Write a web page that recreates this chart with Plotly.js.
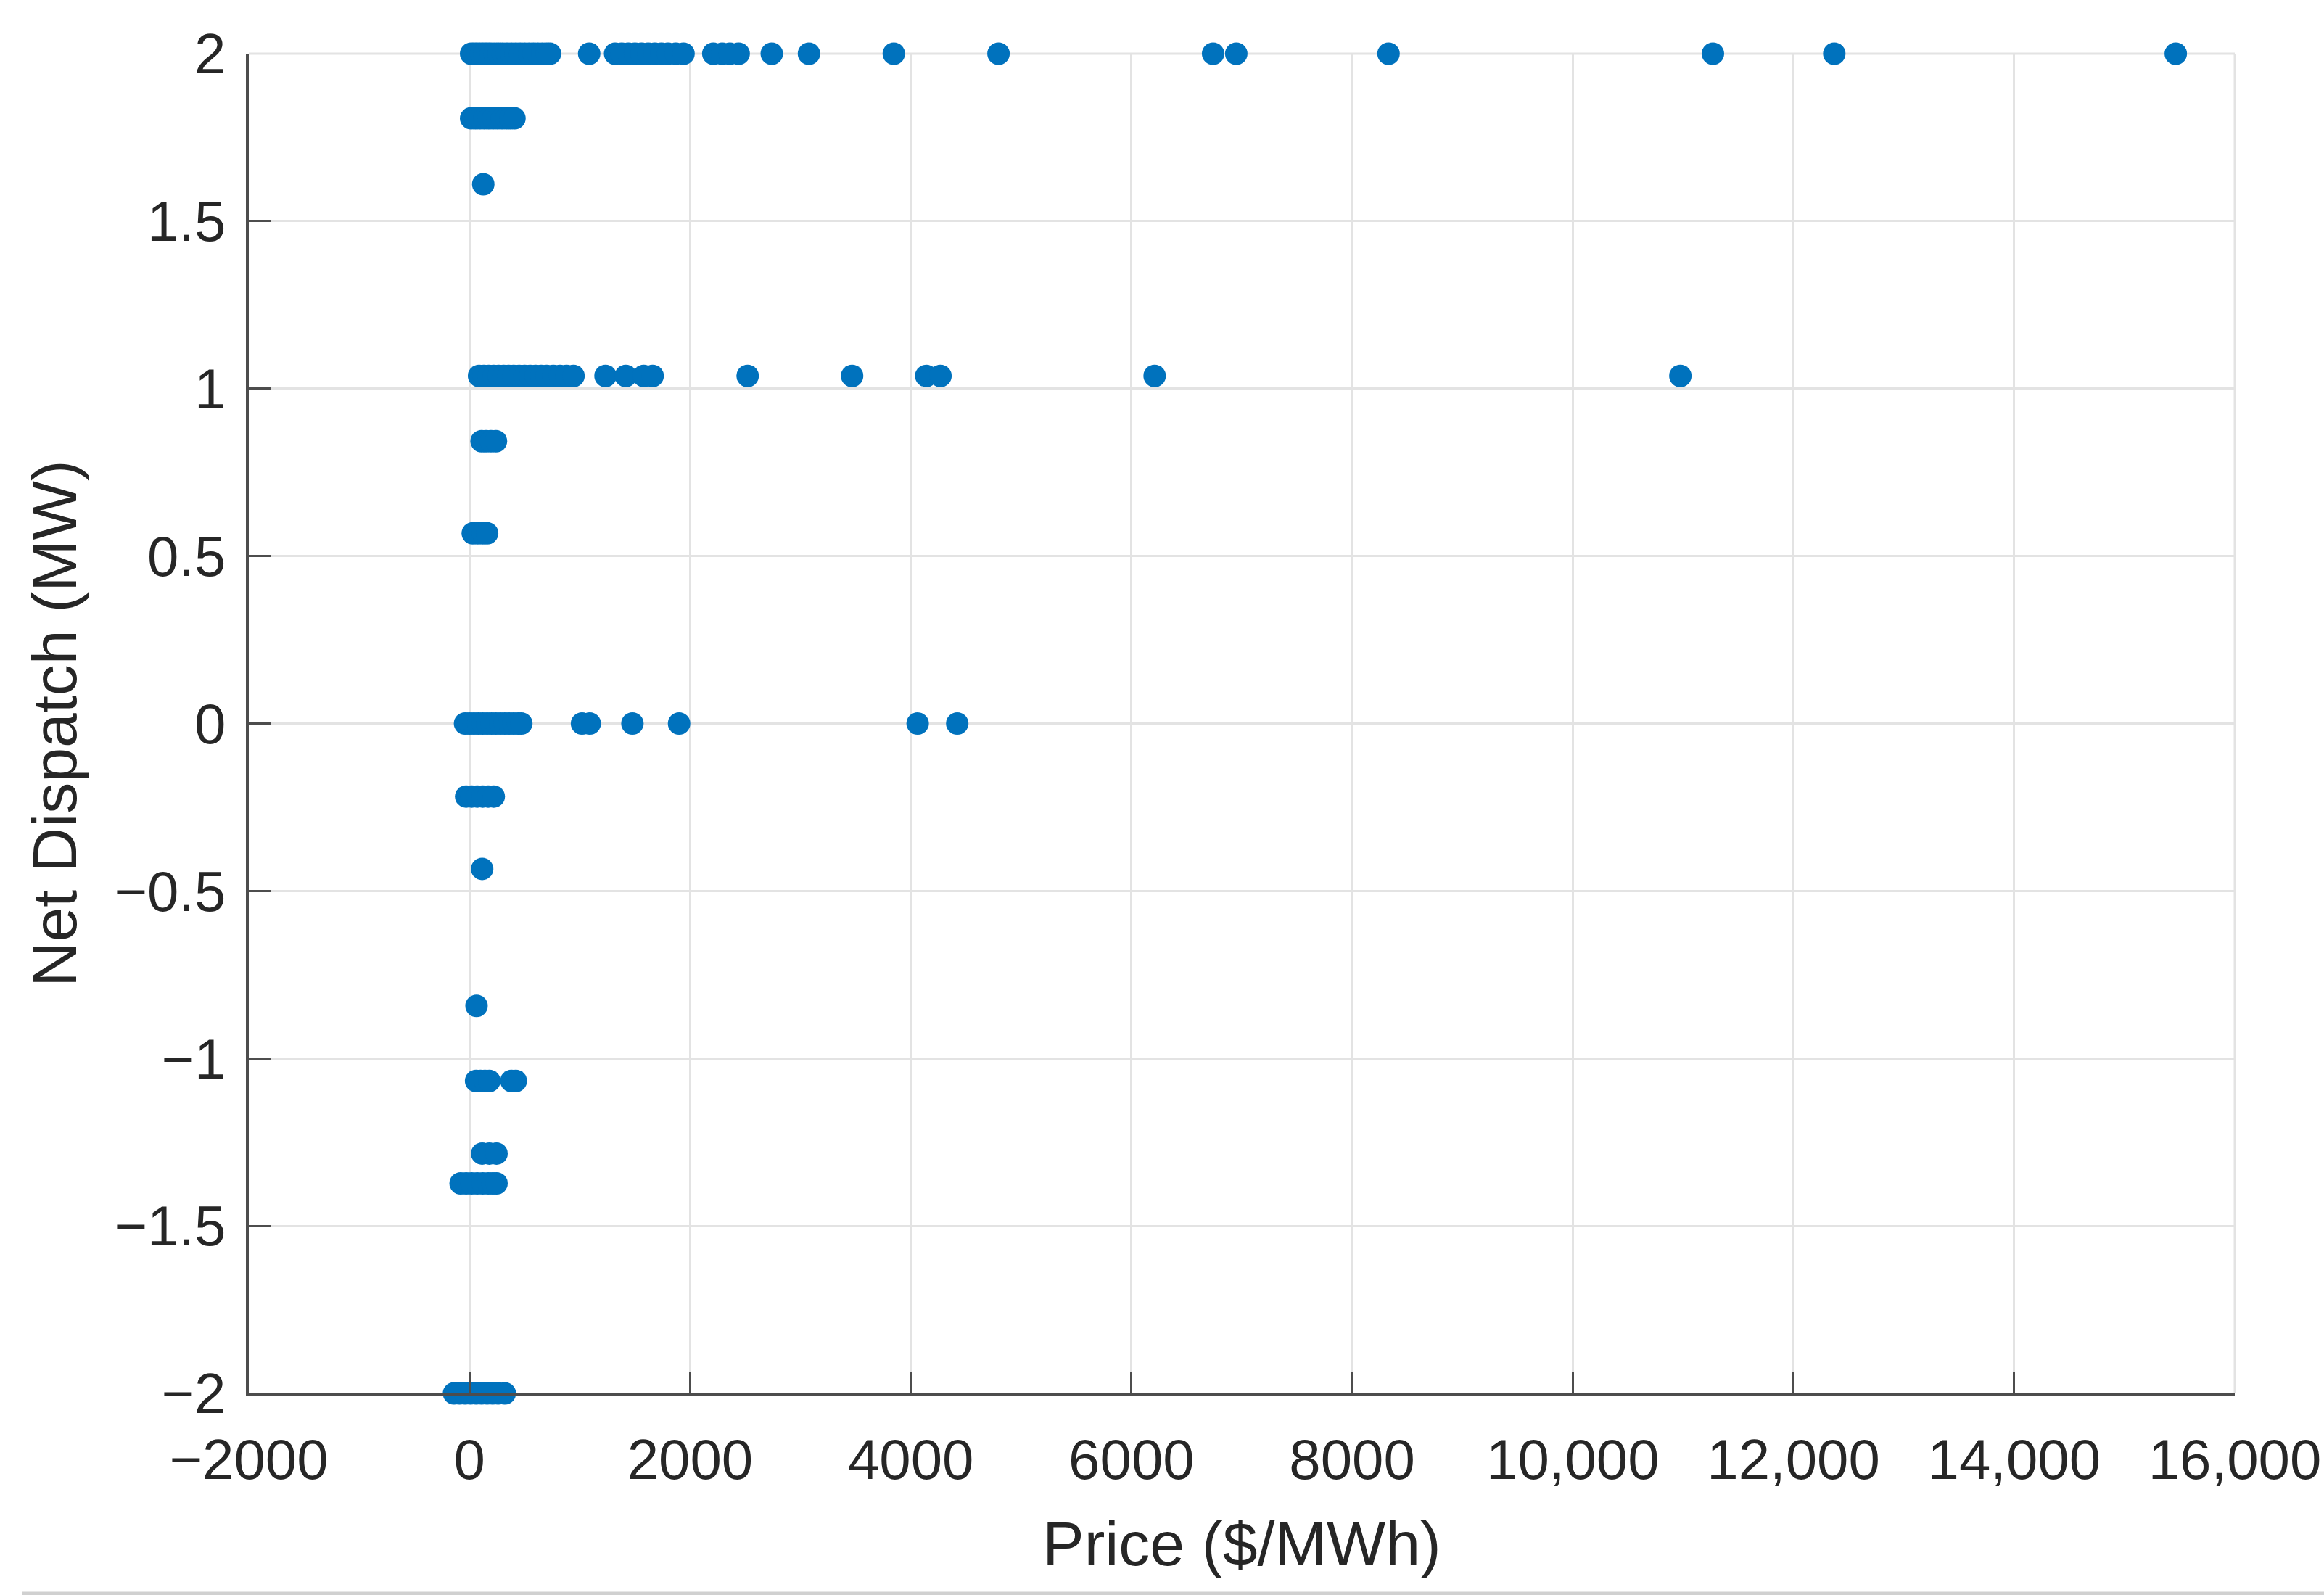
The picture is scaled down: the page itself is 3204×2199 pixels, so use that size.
<!DOCTYPE html>
<html>
<head>
<meta charset="utf-8">
<script src="https://cdn.plot.ly/plotly-3.0.1.min.js"></script>
<style>html,body{margin:0;padding:0;background:#fff;}#chart{width:3204px;height:2199px;}</style>
</head>
<body>
<div id="chart"></div>
<script>
// Net dispatch levels (MW) and the prices ($/MWh) observed at each level
const levels = [2, 1.807, 1.61, 1.038, 0.843, 0.568, 0, -0.218, -0.434, -0.843, -1.067, -1.284, -1.373, -2];
const pricesAt2 = [15, 45, 75, 105, 135, 165, 195, 230, 265, 300, 340, 380, 420, 460, 500, 540, 580, 620, 660, 700, 730,
  1085, 1320, 1380, 1440, 1500, 1560, 1620, 1680, 1740, 1800, 1870, 1940, 2210, 2290, 2360, 2440,
  2740, 3077, 3846, 4795, 6740, 6950, 8330, 11270, 12370, 15465];
const pricesAt1p81 = [15, 55, 95, 135, 175, 215, 255, 295, 335, 370, 408];
const pricesAt1p61 = [125];
const pricesAt1p04 = [87, 130, 175, 220, 265, 310, 355, 400, 450, 500, 550, 600, 650, 700, 760, 820, 880, 943,
  1233, 1417, 1580, 1660, 2521, 3468, 4140, 4269, 6210, 10975];
const pricesAt0p84 = [110, 150, 195, 240];
const pricesAt0p57 = [30, 75, 120, 160];
const pricesAt0 = [-40, 0, 40, 80, 120, 160, 200, 240, 280, 320, 360, 400, 440, 470, 1020, 1090, 1477, 1900, 4062, 4421];
const pricesAtM0p22 = [-30, 20, 70, 120, 170, 220];
const pricesAtM0p43 = [115];
const pricesAtM0p84 = [64];
const pricesAtM1p07 = [60, 100, 140, 180, 380, 420];
const pricesAtM1p28 = [115, 180, 245];
const pricesAtM1p37 = [-80, -30, 20, 70, 120, 170, 210, 245];
const pricesAtM2 = [-140, -90, -40, 10, 60, 110, 160, 210, 260, 320];

const xTickVals = [-2000, 0, 2000, 4000, 6000, 8000, 10000, 12000, 14000, 16000];
const xTickText = ['\u22122000', '0', '2000', '4000', '6000', '8000', '10,000', '12,000', '14,000', '16,000'];
const yTickVals = [-2, -1.5, -1, -0.5, 0, 0.5, 1, 1.5, 2];
const yTickText = ['\u22122', '\u22121.5', '\u22121', '\u22120.5', '0', '0.5', '1', '1.5', '2'];

const groups = [pricesAt2, pricesAt1p81, pricesAt1p61, pricesAt1p04, pricesAt0p84, pricesAt0p57, pricesAt0,
  pricesAtM0p22, pricesAtM0p43, pricesAtM0p84, pricesAtM1p07, pricesAtM1p28, pricesAtM1p37, pricesAtM2];
const price = [], dispatch = [];
groups.forEach((g, i) => g.forEach(p => { price.push(p); dispatch.push(levels[i]); }));

const textColor = '#262626';
const fontFam = 'Liberation Sans, Arial, sans-serif';

const trace = {
  type: 'scatter', mode: 'markers', x: price, y: dispatch, cliponaxis: false,
  marker: {color: '#0072BD', size: 31, line: {width: 0}},
  hoverinfo: 'x+y'
};

const axisCommon = {
  showgrid: true, gridcolor: '#e3e3e3', gridwidth: 3,
  zeroline: false, showline: true, linecolor: '#4d4d4d', linewidth: 4,
  ticks: 'inside', ticklen: 30, tickwidth: 3, tickcolor: '#4d4d4d',
  tickfont: {family: fontFam, size: 78, color: textColor},
  mirror: false, fixedrange: true
};

const layout = {
  width: 3204, height: 2199,
  paper_bgcolor: '#ffffff', plot_bgcolor: '#ffffff',
  margin: {l: 343, r: 123, t: 74, b: 278},
  showlegend: false,
  font: {family: fontFam, color: textColor},
  xaxis: Object.assign({}, axisCommon, {
    range: [-2000, 16000], tickmode: 'array', tickvals: xTickVals, ticktext: xTickText,
    ticklabelstandoff: 20,
    title: {text: 'Price ($/MWh)', font: {family: fontFam, size: 86, color: textColor}, standoff: 44}
  }),
  yaxis: Object.assign({}, axisCommon, {
    range: [-2, 2], tickmode: 'array', tickvals: yTickVals, ticktext: yTickText,
    ticklabelstandoff: 12,
    title: {text: 'Net Dispatch (MW)', font: {family: fontFam, size: 86, color: textColor}, standoff: 24}
  }),
  shapes: [
    {type: 'line', xref: 'paper', yref: 'paper', x0: 0, x1: 1, y0: 1, y1: 1, line: {color: '#e3e3e3', width: 3}, layer: 'below'},
    {type: 'line', xref: 'paper', yref: 'paper', x0: 1, x1: 1, y0: 0, y1: 1, line: {color: '#e3e3e3', width: 3}, layer: 'below'},
    {type: 'line', xref: 'paper', yref: 'paper', x0: -0.114, x1: 1.05, y0: -0.1494, y1: -0.1494, line: {color: '#d0d0d0', width: 5}}
  ]
};

Plotly.newPlot('chart', [trace], layout, {staticPlot: true, displayModeBar: false});
</script>
</body>
</html>
